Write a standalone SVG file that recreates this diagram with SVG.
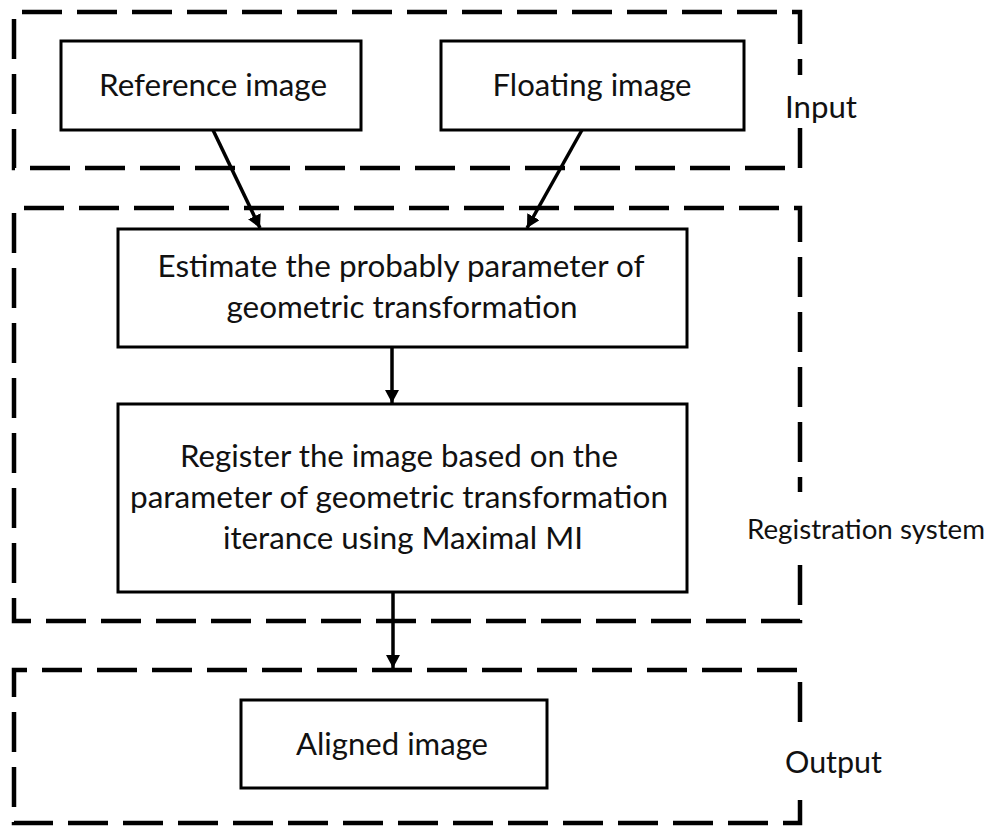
<svg xmlns="http://www.w3.org/2000/svg" width="991" height="827" viewBox="0 0 991 827">
  <defs>
    <marker id="arrowhead" markerUnits="userSpaceOnUse" markerWidth="14" markerHeight="14" refX="13" refY="7" orient="auto">
      <path d="M0,0 L13,7 L0,14 Z" fill="#000"/>
    </marker>
    <style>
      .zone { fill: none; stroke: #000; stroke-width: 4.5; stroke-dasharray: 40 15; }
      .box { fill: #fff; stroke: #000; stroke-width: 3; }
      .label { font-family: "Lato", "Open Sans", "Liberation Sans", sans-serif; font-size: 30px; fill: #111; }
      .mid { text-anchor: middle; }
      .link { stroke: #000; stroke-width: 3.5; fill: none; marker-end: url(#arrowhead); }
    </style>
  </defs>
  <rect width="991" height="827" fill="#fff"/>

  <!-- dashed stage frames; each right edge is left open where its label sits -->
  <g id="stage-input">
    <path class="zone" d="M800,128 V168 H14 V12 H800 V75"/>
    <text class="label" x="785" y="118" textLength="72" lengthAdjust="spacingAndGlyphs">Input</text>
  </g>
  <g id="stage-registration">
    <path class="zone" d="M800,565 V621 H14 V208 H800 V492"/>
    <text class="label" x="747" y="539" style="font-size:27px" textLength="238" lengthAdjust="spacingAndGlyphs">Registration system</text>
  </g>
  <g id="stage-output">
    <path class="zone" d="M800,800 V823 H14 V670 H800 V728"/>
    <text class="label" x="785" y="773" textLength="97" lengthAdjust="spacingAndGlyphs">Output</text>
  </g>

  <!-- connectors -->
  <g id="connectors">
    <line class="link" x1="213" y1="130" x2="260" y2="228"/>
    <line class="link" x1="582" y1="130" x2="527" y2="228"/>
    <line class="link" x1="392" y1="347" x2="392" y2="403"/>
    <line class="link" x1="393" y1="592" x2="393" y2="668"/>
  </g>

  <!-- process nodes -->
  <g id="node-reference">
    <rect class="box" x="61" y="41" width="300" height="89"/>
    <text class="label mid" x="213" y="96" textLength="228" lengthAdjust="spacingAndGlyphs">Reference image</text>
  </g>
  <g id="node-floating">
    <rect class="box" x="441" y="41" width="303" height="89"/>
    <text class="label mid" x="592" y="96" textLength="199" lengthAdjust="spacingAndGlyphs">Floating image</text>
  </g>
  <g id="node-estimate">
    <rect class="box" x="118" y="229" width="569" height="118"/>
    <text class="label mid" x="401" y="277" textLength="487" lengthAdjust="spacingAndGlyphs">Estimate the probably parameter of</text>
    <text class="label mid" x="402" y="318" textLength="351" lengthAdjust="spacingAndGlyphs">geometric transformation</text>
  </g>
  <g id="node-register">
    <rect class="box" x="118" y="404" width="569" height="188"/>
    <text class="label mid" x="399" y="467" textLength="438" lengthAdjust="spacingAndGlyphs">Register the image based on the</text>
    <text class="label mid" x="399" y="508" textLength="538" lengthAdjust="spacingAndGlyphs">parameter of geometric transformation</text>
    <text class="label mid" x="403" y="549" textLength="360" lengthAdjust="spacingAndGlyphs">iterance using Maximal MI</text>
  </g>
  <g id="node-aligned">
    <rect class="box" x="241" y="700" width="306" height="88"/>
    <text class="label mid" x="392" y="755" textLength="192" lengthAdjust="spacingAndGlyphs">Aligned image</text>
  </g>
</svg>
